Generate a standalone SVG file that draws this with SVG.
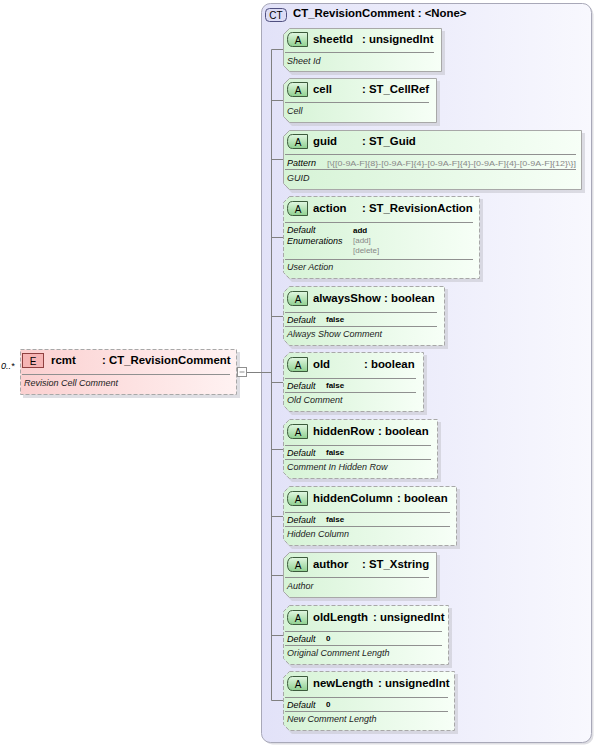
<svg xmlns="http://www.w3.org/2000/svg" width="595" height="746" viewBox="0 0 595 746">
<defs>
<linearGradient id="gAttr" x1="0" y1="0" x2="1" y2="0"><stop offset="0" stop-color="#d6f3d6"/><stop offset="1" stop-color="#f7fff7"/></linearGradient>
<linearGradient id="gBadgeA" x1="0" y1="0" x2="0" y2="1"><stop offset="0" stop-color="#e2f7e2"/><stop offset="1" stop-color="#8fd08f"/></linearGradient>
<linearGradient id="gElem" x1="0" y1="0" x2="1" y2="0"><stop offset="0" stop-color="#fbd0d0"/><stop offset="1" stop-color="#fff2f2"/></linearGradient>
<linearGradient id="gCT" x1="0" y1="0" x2="1" y2="0"><stop offset="0" stop-color="#e2e2f8"/><stop offset="1" stop-color="#f8f8fe"/></linearGradient>
</defs>
<style>
text{font-family:"Liberation Sans",Arial,sans-serif;fill:#000}
.t{font-size:11.4px;font-weight:bold}
.d{font-size:9px;font-style:italic;fill:#222}
.k{font-size:9px;font-style:italic}
.v{font-size:8px;font-weight:bold}
.g{font-size:8px;fill:#888}
.box{fill:url(#gAttr);stroke:#a8a8a8;stroke-width:1}
.dash{stroke-dasharray:4,2}
.sh{fill:#c8c8d0;opacity:0.6}
.sep{stroke:#909090;stroke-width:1}
.badge{fill:url(#gBadgeA);stroke:#3c5a3c;stroke-width:1}
.bl{font-size:10px;fill:#000}
.con{stroke:#808080;stroke-width:1;fill:none}
</style>

<g id="ct">
<rect x="263.5" y="5.5" width="330" height="739" rx="9" fill="#c8c8d0" opacity="0.6"/>
<rect x="261.5" y="3.5" width="330" height="739" rx="9" fill="url(#gCT)" stroke="#a8a8b8"/>
<rect x="265.5" y="8.5" width="21" height="13" rx="4" fill="#dcdcf4" stroke="#505080"/>
<text x="276" y="19" class="bl" text-anchor="middle" fill="#303060">CT</text>
<text x="293" y="17" class="t">CT_RevisionComment : &lt;None&gt;</text>
</g>

<g id="connectors">
<line class="con" x1="246" y1="372.5" x2="271.5" y2="372.5"/>
<line class="con" x1="271.5" y1="49.5" x2="271.5" y2="700.5"/>
<line class="con" x1="271.5" y1="49.5" x2="283" y2="49.5"/>
<line class="con" x1="271.5" y1="100.5" x2="283" y2="100.5"/>
<line class="con" x1="271.5" y1="159.5" x2="283" y2="159.5"/>
<line class="con" x1="271.5" y1="237.5" x2="283" y2="237.5"/>
<line class="con" x1="271.5" y1="316.5" x2="283" y2="316.5"/>
<line class="con" x1="271.5" y1="382.5" x2="283" y2="382.5"/>
<line class="con" x1="271.5" y1="449.5" x2="283" y2="449.5"/>
<line class="con" x1="271.5" y1="516.5" x2="283" y2="516.5"/>
<line class="con" x1="271.5" y1="575.5" x2="283" y2="575.5"/>
<line class="con" x1="271.5" y1="635.5" x2="283" y2="635.5"/>
<line class="con" x1="271.5" y1="700.5" x2="283" y2="700.5"/>
</g>

<g id="rcmt">
<text x="1" y="369" class="k">0..*</text>
<rect x="23" y="352" width="217" height="46" class="sh"/>
<rect x="20.5" y="349.5" width="216" height="45" fill="url(#gElem)" stroke="#a8a8a8" stroke-dasharray="4,2"/>
<rect x="22.5" y="353.5" width="21" height="14" fill="#f6b4b4" stroke="#904040"/>
<text x="33" y="365" class="bl" text-anchor="middle" fill="#000">E</text>
<text x="51" y="364" class="t">rcmt</text>
<text x="102" y="364" class="t">: CT_RevisionComment</text>
<line class="sep" x1="22" y1="374.5" x2="230" y2="374.5"/>
<text x="24" y="386" class="d">Revision Cell Comment</text>
<rect x="237.5" y="367.5" width="9" height="9" fill="#fff" stroke="#909090"/>
<line x1="239.5" y1="372" x2="244.5" y2="372" stroke="#909090"/>
</g>

<g id="sheetId">
<path class="sh" d="M292,31H445V75H292L286,69V37Z"/>
<path class="box" d="M289.5,28.5H441.5V71.5H289.5L283.5,65.5V34.5Z"/>
<path class="badge" d="M292.5,32.5H307.5V46.5H292.5Q287.5,46.5 287.5,39.5Q287.5,32.5 292.5,32.5Z"/>
<text x="298" y="44" class="bl" text-anchor="middle">A</text>
<text x="313" y="43" class="t">sheetId</text><text x="362" y="43" class="t">: unsignedInt</text>
<line class="sep" x1="285" y1="52.5" x2="434" y2="52.5"/>
<text x="287" y="64" class="d">Sheet Id</text>
</g>

<g id="cell">
<path class="sh" d="M292,81H440V126H292L286,120V87Z"/>
<path class="box" d="M289.5,78.5H436.5V122.5H289.5L283.5,116.5V84.5Z"/>
<path class="badge" d="M292.5,82.5H307.5V96.5H292.5Q287.5,96.5 287.5,89.5Q287.5,82.5 292.5,82.5Z"/>
<text x="298" y="94" class="bl" text-anchor="middle">A</text>
<text x="313" y="93" class="t">cell</text><text x="362" y="93" class="t">: ST_CellRef</text>
<line class="sep" x1="285" y1="102.5" x2="429" y2="102.5"/>
<text x="287" y="114" class="d">Cell</text>
</g>

<g id="guid">
<path class="sh" d="M292,133H585V193H292L286,187V139Z"/>
<path class="box" d="M289.5,130.5H581.5V189.5H289.5L283.5,183.5V136.5Z"/>
<path class="badge" d="M292.5,134.5H307.5V148.5H292.5Q287.5,148.5 287.5,141.5Q287.5,134.5 292.5,134.5Z"/>
<text x="298" y="146" class="bl" text-anchor="middle">A</text>
<text x="313" y="145" class="t">guid</text><text x="362" y="145" class="t">: ST_Guid</text>
<line class="sep" x1="285" y1="154.5" x2="576" y2="154.5"/>
<text x="287" y="166" class="k">Pattern</text>
<text x="327" y="166" class="g" textLength="249" lengthAdjust="spacingAndGlyphs">[\{[0-9A-F]{8}-[0-9A-F]{4}-[0-9A-F]{4}-[0-9A-F]{4}-[0-9A-F]{12}\}]</text>
<line class="sep" x1="285" y1="169.5" x2="576" y2="169.5"/>
<text x="287" y="181" class="d">GUID</text>
</g>

<g id="action">
<path class="sh" d="M292,199H483V282H292L286,276V205Z"/>
<path class="box dash" d="M289.5,196.5H479.5V278.5H289.5L283.5,272.5V202.5Z"/>
<path class="badge" d="M292.5,201.5H307.5V215.5H292.5Q287.5,215.5 287.5,208.5Q287.5,201.5 292.5,201.5Z"/>
<text x="298" y="213" class="bl" text-anchor="middle">A</text>
<text x="313" y="212" class="t">action</text><text x="362" y="212" class="t">: ST_RevisionAction</text>
<line class="sep" x1="285" y1="222.5" x2="473" y2="222.5"/>
<text x="287" y="233" class="k">Default</text><text x="353" y="233" class="v">add</text>
<text x="287" y="244" class="k">Enumerations</text><text x="353" y="243" class="g">[add]</text>
<text x="353" y="253" class="g">[delete]</text>
<line class="sep" x1="285" y1="259.5" x2="473" y2="259.5"/>
<text x="287" y="270" class="d">User Action</text>
</g>

<g id="alwaysShow">
<path class="sh" d="M292,289H448V349H292L286,343V295Z"/>
<path class="box dash" d="M289.5,286.5H444.5V345.5H289.5L283.5,339.5V292.5Z"/>
<path class="badge" d="M292.5,291.5H307.5V305.5H292.5Q287.5,305.5 287.5,298.5Q287.5,291.5 292.5,291.5Z"/>
<text x="298" y="303" class="bl" text-anchor="middle">A</text>
<text x="313" y="302" class="t">alwaysShow</text><text x="384" y="302" class="t">: boolean</text>
<line class="sep" x1="285" y1="312.5" x2="437" y2="312.5"/>
<text x="287" y="323" class="k">Default</text><text x="326" y="322" class="v">false</text>
<line class="sep" x1="285" y1="326.5" x2="437" y2="326.5"/>
<text x="287" y="337" class="d">Always Show Comment</text>
</g>

<g id="old">
<path class="sh" d="M292,355H427V415H292L286,409V361Z"/>
<path class="box dash" d="M289.5,352.5H423.5V411.5H289.5L283.5,405.5V358.5Z"/>
<path class="badge" d="M292.5,357.5H307.5V371.5H292.5Q287.5,371.5 287.5,364.5Q287.5,357.5 292.5,357.5Z"/>
<text x="298" y="369" class="bl" text-anchor="middle">A</text>
<text x="313" y="368" class="t">old</text><text x="364" y="368" class="t">: boolean</text>
<line class="sep" x1="285" y1="378.5" x2="416" y2="378.5"/>
<text x="287" y="389" class="k">Default</text><text x="326" y="388" class="v">false</text>
<line class="sep" x1="285" y1="392.5" x2="416" y2="392.5"/>
<text x="287" y="403" class="d">Old Comment</text>
</g>

<g id="hiddenRow">
<path class="sh" d="M292,422H441V482H292L286,476V428Z"/>
<path class="box dash" d="M289.5,419.5H437.5V478.5H289.5L283.5,472.5V425.5Z"/>
<path class="badge" d="M292.5,424.5H307.5V438.5H292.5Q287.5,438.5 287.5,431.5Q287.5,424.5 292.5,424.5Z"/>
<text x="298" y="436" class="bl" text-anchor="middle">A</text>
<text x="313" y="435" class="t">hiddenRow</text><text x="378" y="435" class="t">: boolean</text>
<line class="sep" x1="285" y1="445.5" x2="431" y2="445.5"/>
<text x="287" y="456" class="k">Default</text><text x="326" y="455" class="v">false</text>
<line class="sep" x1="285" y1="459.5" x2="431" y2="459.5"/>
<text x="287" y="470" class="d">Comment In Hidden Row</text>
</g>

<g id="hiddenColumn">
<path class="sh" d="M292,489H460V549H292L286,543V495Z"/>
<path class="box dash" d="M289.5,486.5H456.5V545.5H289.5L283.5,539.5V492.5Z"/>
<path class="badge" d="M292.5,491.5H307.5V505.5H292.5Q287.5,505.5 287.5,498.5Q287.5,491.5 292.5,491.5Z"/>
<text x="298" y="503" class="bl" text-anchor="middle">A</text>
<text x="313" y="502" class="t">hiddenColumn</text><text x="397" y="502" class="t">: boolean</text>
<line class="sep" x1="285" y1="512.5" x2="450" y2="512.5"/>
<text x="287" y="523" class="k">Default</text><text x="326" y="522" class="v">false</text>
<line class="sep" x1="285" y1="526.5" x2="450" y2="526.5"/>
<text x="287" y="537" class="d">Hidden Column</text>
</g>

<g id="author">
<path class="sh" d="M292,555H440V601H292L286,595V561Z"/>
<path class="box" d="M289.5,552.5H436.5V597.5H289.5L283.5,591.5V558.5Z"/>
<path class="badge" d="M292.5,557.5H307.5V571.5H292.5Q287.5,571.5 287.5,564.5Q287.5,557.5 292.5,557.5Z"/>
<text x="298" y="569" class="bl" text-anchor="middle">A</text>
<text x="313" y="568" class="t">author</text><text x="362" y="568" class="t">: ST_Xstring</text>
<line class="sep" x1="285" y1="577.5" x2="429" y2="577.5"/>
<text x="287" y="589" class="d">Author</text>
</g>

<g id="oldLength">
<path class="sh" d="M292,608H452V668H292L286,662V614Z"/>
<path class="box dash" d="M289.5,605.5H448.5V664.5H289.5L283.5,658.5V611.5Z"/>
<path class="badge" d="M292.5,610.5H307.5V624.5H292.5Q287.5,624.5 287.5,617.5Q287.5,610.5 292.5,610.5Z"/>
<text x="298" y="622" class="bl" text-anchor="middle">A</text>
<text x="313" y="621" class="t">oldLength</text><text x="373" y="621" class="t">: unsignedInt</text>
<line class="sep" x1="285" y1="631.5" x2="442" y2="631.5"/>
<text x="287" y="642" class="k">Default</text><text x="326" y="641" class="v">0</text>
<line class="sep" x1="285" y1="645.5" x2="442" y2="645.5"/>
<text x="287" y="656" class="d">Original Comment Length</text>
</g>

<g id="newLength">
<path class="sh" d="M292,674H458V734H292L286,728V680Z"/>
<path class="box dash" d="M289.5,671.5H454.5V730.5H289.5L283.5,724.5V677.5Z"/>
<path class="badge" d="M292.5,676.5H307.5V690.5H292.5Q287.5,690.5 287.5,683.5Q287.5,676.5 292.5,676.5Z"/>
<text x="298" y="688" class="bl" text-anchor="middle">A</text>
<text x="313" y="687" class="t">newLength</text><text x="378" y="687" class="t">: unsignedInt</text>
<line class="sep" x1="285" y1="697.5" x2="448" y2="697.5"/>
<text x="287" y="708" class="k">Default</text><text x="326" y="707" class="v">0</text>
<line class="sep" x1="285" y1="711.5" x2="448" y2="711.5"/>
<text x="287" y="722" class="d">New Comment Length</text>
</g>
</svg>
